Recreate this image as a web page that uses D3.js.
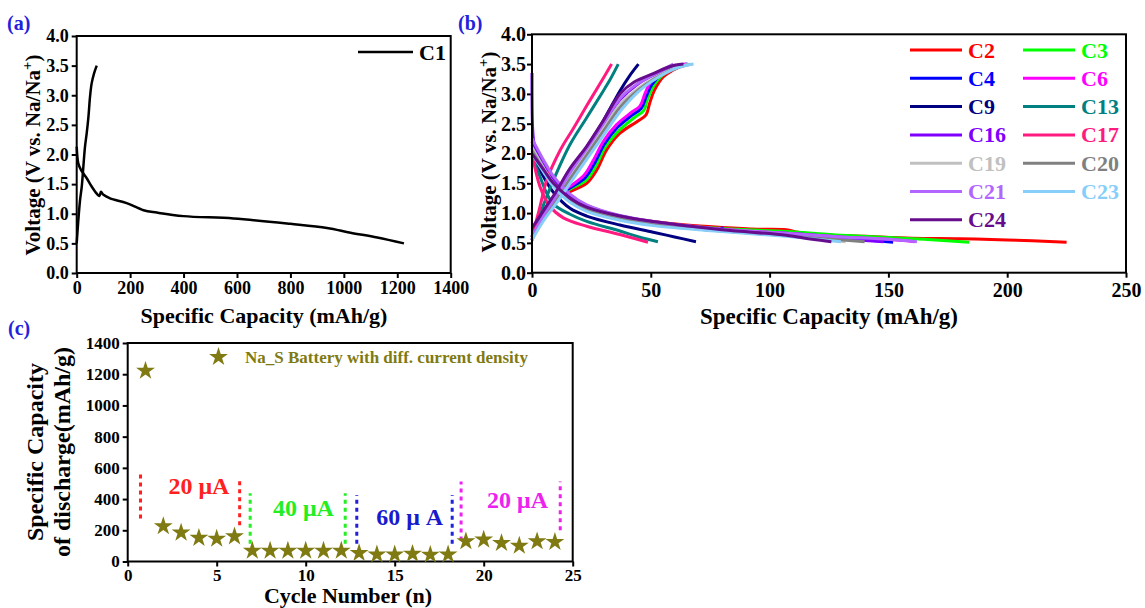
<!DOCTYPE html>
<html>
<head>
<meta charset="utf-8">
<script src="https://cdn.jsdelivr.net/npm/d3@7"></script>
<style>
  body { margin: 0; background: #fff; }
  svg text { font-family: "Liberation Serif", "DejaVu Serif", "Times New Roman", serif !important; font-weight: bold; }
  .tick line { stroke: #000; stroke-width: 2; }
  .domain { display: none; }
</style>
</head>
<body>
<svg width="1145" height="608"></svg>
<script>
// ---- panel (a): first cycle C1 ----
var c1Charge = [[0,0.5],[2.5,0.67],[8,1.0],[12.5,1.23],[19,1.46],[25,1.8],[31,2.13],[37.5,2.36],[44,2.64],[50,2.98],[56,3.2],[65,3.37],[75,3.5]];
var c1Discharge = [[0,2.13],[6,1.85],[15,1.75],[25,1.68],[37.5,1.6],[56,1.46],[75,1.34],[85,1.3],[91,1.37],[100,1.32],[125,1.26],[187,1.18],[250,1.06],[300,1.02],[400,0.96],[587,0.92],[800,0.83],[937,0.76],[1025,0.68],[1125,0.6],[1225,0.5]];
var ticksA_x = [0,200,400,600,800,1000,1200,1400];
var ticksV = [0,0.5,1,1.5,2,2.5,3,3.5,4];

// ---- panel (b): cycles C2..C24 ----
var cycleNames = ["C2","C3","C4","C6","C9","C13","C16","C17","C19","C20","C21","C23","C24"];
var cycleColors = ["#ff0000","#00ff00","#0000ff","#ff00ff","#000080","#008080","#8000ff","#ff1a80","#c0c0c0","#808080","#b266ff","#87cefa","#660c8c"];
var chargeB = {
  C2:  [[0,0.55],[3.4,0.88],[9,1.19],[16,1.36],[23,1.5],[27.2,1.72],[31.4,2.06],[37,2.34],[44,2.53],[48,2.65],[49.5,2.84],[51.5,3.06],[55.3,3.29],[59.5,3.4],[64.4,3.5]],
  C3:  [[0,0.55],[3.4,0.9],[9,1.22],[16,1.4],[23,1.56],[27,1.8],[31,2.12],[37,2.4],[43,2.6],[47,2.72],[48.5,2.9],[51,3.12],[55,3.32],[60,3.43],[65,3.5]],
  C4:  [[0,0.55],[3.4,0.92],[9,1.24],[16,1.42],[22.5,1.6],[26.5,1.85],[30.5,2.16],[36,2.44],[42,2.64],[46,2.76],[48,2.95],[50.5,3.16],[55,3.35],[60,3.45],[65.5,3.5]],
  C6:  [[0,0.55],[3.4,0.93],[9,1.26],[16,1.45],[22,1.64],[26,1.9],[30,2.2],[35.5,2.48],[41.5,2.68],[45.5,2.8],[47.5,3.0],[50,3.2],[54.5,3.37],[60,3.46],[65,3.5]],
  C9:  [[0,0.6],[5,1.0],[10,1.3],[16,1.65],[23,2.1],[30,2.55],[37,3.05],[41,3.3],[44.8,3.5]],
  C13: [[0,0.6],[4,1.05],[9,1.55],[16,2.15],[23,2.6],[30,3.05],[33,3.25],[36.3,3.5]],
  C16: [[0,0.6],[5,0.95],[10,1.3],[16,1.7],[23,2.1],[30,2.5],[37,2.9],[44,3.15],[52,3.33],[60,3.45],[64,3.5]],
  C17: [[0,0.6],[3,1.05],[6.2,1.55],[11.8,2.05],[17.4,2.42],[23,2.8],[28.6,3.17],[33.5,3.5]],
  C19: [[0,0.6],[5,0.95],[10,1.25],[16,1.62],[23,2.02],[30,2.42],[37,2.82],[45,3.1],[52,3.28],[60,3.43],[66,3.5]],
  C20: [[0,0.6],[5,0.92],[10,1.2],[16,1.57],[23,1.97],[30,2.37],[37,2.77],[45,3.07],[52,3.26],[60,3.42],[67,3.5]],
  C21: [[0,0.6],[5,0.97],[10,1.28],[16,1.68],[23,2.08],[30,2.5],[37,2.92],[44,3.16],[52,3.34],[59.5,3.5]],
  C23: [[0,0.55],[5,0.88],[10,1.15],[16,1.5],[23,1.9],[30,2.3],[38,2.75],[46,3.08],[54,3.3],[62,3.45],[68,3.5]],
  C24: [[0,0.75],[5,1.05],[10,1.35],[16,1.75],[23,2.12],[30,2.55],[37,3.0],[43,3.2],[51,3.34],[58,3.46],[63.7,3.5]]
};
var dischargeB = {
  C2:  [[0,2.2],[5,1.8],[9,1.55],[16,1.25],[23,1.08],[30,1.0],[37,0.94],[51,0.86],[65,0.8],[80,0.76],[95,0.73],[107,0.72],[112,0.68],[120,0.64],[140,0.61],[160,0.58],[180,0.57],[200,0.55],[225,0.51]],
  C3:  [[0,2.15],[5,1.75],[9,1.5],[16,1.22],[23,1.06],[37,0.92],[51,0.84],[80,0.74],[107,0.69],[130,0.63],[150,0.59],[165,0.56],[184,0.51]],
  C4:  [[0,2.1],[5,1.72],[9,1.48],[16,1.2],[23,1.05],[37,0.91],[51,0.83],[79,0.72],[80,0.75],[81,0.72],[107,0.66],[130,0.59],[152,0.51]],
  C6:  [[0,2.2],[5,1.85],[9,1.6],[16,1.3],[23,1.12],[37,0.95],[51,0.85],[80,0.73],[107,0.66],[130,0.6],[150,0.56],[161,0.52]],
  C9:  [[0,2.0],[5,1.6],[9,1.35],[16,1.08],[23,0.95],[37,0.8],[51,0.68],[60,0.6],[69,0.52]],
  C13: [[0,1.95],[3,1.65],[6,1.35],[9,1.15],[16,0.98],[23,0.86],[37,0.7],[45,0.6],[53,0.52]],
  C16: [[0,3.35],[0.3,2.4],[1,2.15],[5,1.82],[9,1.58],[16,1.3],[23,1.13],[37,0.95],[51,0.85],[80,0.72],[107,0.64],[130,0.57],[148,0.52]],
  C17: [[0,2.0],[3.4,1.44],[7.6,1.11],[13.2,0.92],[23,0.78],[37,0.64],[48.8,0.51]],
  C19: [[0,2.1],[5,1.75],[9,1.5],[16,1.22],[23,1.06],[37,0.9],[51,0.81],[80,0.7],[107,0.62],[125,0.55],[132,0.52]],
  C20: [[0,2.05],[5,1.72],[9,1.48],[16,1.2],[23,1.05],[37,0.9],[51,0.81],[80,0.7],[107,0.63],[125,0.57],[140,0.52]],
  C21: [[0,2.25],[5,1.88],[9,1.62],[16,1.32],[23,1.14],[37,0.96],[51,0.86],[80,0.73],[107,0.66],[130,0.6],[150,0.56],[162,0.52]],
  C23: [[0,2.0],[5,1.68],[9,1.45],[16,1.18],[23,1.03],[37,0.88],[51,0.79],[80,0.69],[107,0.61],[120,0.56],[130,0.52]],
  C24: [[0,2.0],[5,1.72],[9,1.5],[16,1.25],[23,1.1],[37,0.95],[51,0.86],[80,0.72],[107,0.63],[118,0.56],[126,0.52]]
};
var ticksB_x = [0,50,100,150,200,250];

// ---- panel (c): discharge capacity vs cycle ----
var cycles = [1,2,3,4,5,6,7,8,9,10,11,12,13,14,15,16,17,18,19,20,21,22,23,24];
var capacity = [1222,226,185,151,146,161,69,69,69,69,69,69,54,45,45,49,43,45,129,140,118,101,129,125];
var ticksC_x = [0,5,10,15,20,25];
var ticksC_y = [0,200,400,600,800,1000,1200,1400];
var stepX = [0.72,6.29,6.88,12.22,12.87,18.23,18.73,24.3];
var stepTop = [576,533,437,437,426,426,512,512];
var stepBottom = [275,232,114,114,114,114,135,200];
var stepColor = ["#ff2020","#ff2020","#22ee22","#22ee22","#2020dd","#2020dd","#ee22ee","#ee22ee"];
var stepLabels = ["20 \u03bcA","40 \u03bcA","60 \u03bc A","20 \u03bcA"];
var stepLabelX = [4.0,9.87,15.84,21.9];
var stepLabelY = [432,290,237,344];
var stepLabelColor = ["#ff2020","#22ee22","#1a1acc","#ee22ee"];

var svg = d3.select("svg");
var blue = "#2222dd";
var serif = "'Liberation Serif', 'DejaVu Serif', serif";

function frame (x, y) {
    svg.append("rect")
        .attr("x", x.range()[0]).attr("y", y.range()[1])
        .attr("width", x.range()[1] - x.range()[0])
        .attr("height", y.range()[0] - y.range()[1])
        .attr("fill", "none").attr("stroke", "#000").attr("stroke-width", 2);
}

function axes (x, y, xt, yt, fs, xpad, ypad, xfmt, yfmt) {
    svg.append("g")
        .attr("transform", `translate(0,${y.range()[0]})`)
        .call(d3.axisBottom(x).tickValues(xt).tickSize(5).tickPadding(xpad).tickSizeOuter(0).tickFormat(xfmt))
        .attr("font-family", serif)
        .selectAll("text").style("font-size", fs + "px").attr("fill", "#000");
    svg.append("g")
        .attr("transform", `translate(${x.range()[0]},0)`)
        .call(d3.axisLeft(y).tickValues(yt).tickSize(5).tickPadding(ypad).tickSizeOuter(0).tickFormat(yfmt))
        .attr("font-family", serif)
        .selectAll("text").style("font-size", fs + "px").attr("fill", "#000");
}

function vTitle (x, cy, fs) {
    let t = svg.append("text")
        .attr("transform", `translate(${x},${cy}) rotate(-90)`)
        .attr("text-anchor", "middle")
        .style("font-size", fs + "px");
    t.append("tspan").text("Voltage (V vs. Na/Na");
    t.append("tspan").attr("dy", -8).style("font-size", (fs * 0.7) + "px").text("+");
    t.append("tspan").attr("dy", 8).text(")");
}

// ================= (a) =================
var xA = d3.scaleLinear().domain([0, 1400]).range([76.7, 450.7]);
var yA = d3.scaleLinear().domain([0, 4]).range([273, 36]);
axes(xA, yA, ticksA_x, ticksV, 18, 3, 3, d3.format("d"), d3.format(".1f"));
frame(xA, yA);

var lineA = d3.line().x(d => xA(d[0])).y(d => yA(d[1])).curve(d3.curveCatmullRom.alpha(0.5));
[c1Charge, c1Discharge].forEach(function (s) {
    svg.append("path").attr("d", lineA(s))
        .attr("fill", "none").attr("stroke", "#000").attr("stroke-width", 2.5);
});
svg.append("line").attr("x1", 358).attr("x2", 413).attr("y1", 52).attr("y2", 52)
    .attr("stroke", "#000").attr("stroke-width", 2.5);
svg.append("text").attr("x", 419).attr("y", 60).style("font-size", "22px").text("C1");

vTitle(40, 155, 21);
svg.append("text").attr("x", 264).attr("y", 323).attr("text-anchor", "middle")
    .style("font-size", "22px").text("Specific Capacity (mAh/g)");
svg.append("text").attr("x", 7).attr("y", 30).attr("fill", blue).style("font-size", "20px").text("(a)");

// ================= (b) =================
var xB = d3.scaleLinear().domain([0, 250]).range([532, 1126]);
var yB = d3.scaleLinear().domain([0, 4]).range([272.7, 34.3]);
axes(xB, yB, ticksB_x, ticksV, 20, 5, 1, d3.format("d"), d3.format(".1f"));

var lineB = d3.line().x(d => xB(d[0])).y(d => yB(d[1])).curve(d3.curveCatmullRom.alpha(0.5));
cycleNames.forEach(function (n, i) {
    [chargeB[n], dischargeB[n]].forEach(function (s) {
        svg.append("path").attr("d", lineB(s))
            .attr("fill", "none").attr("stroke", cycleColors[i])
            .attr("stroke-width", 3).attr("stroke-linejoin", "round");
    });
});
frame(xB, yB);

// legend, two columns
cycleNames.forEach(function (n, i) {
    let col = i % 2, row = Math.floor(i / 2);
    let lx = 910 + col * 113, ly = 50 + row * 28.3;
    svg.append("line").attr("x1", lx).attr("x2", lx + 52).attr("y1", ly).attr("y2", ly)
        .attr("stroke", cycleColors[i]).attr("stroke-width", 3);
    svg.append("text").attr("x", lx + 58).attr("y", ly + 7.5)
        .attr("fill", cycleColors[i]).style("font-size", "22px").text(n);
});

vTitle(496, 152, 21);
svg.append("text").attr("x", 829).attr("y", 324).attr("text-anchor", "middle")
    .style("font-size", "23px").text("Specific Capacity (mAh/g)");
svg.append("text").attr("x", 458).attr("y", 30).attr("fill", blue).style("font-size", "20px").text("(b)");

// ================= (c) =================
var xC = d3.scaleLinear().domain([0, 25]).range([127.7, 572.7]);
var yC = d3.scaleLinear().domain([0, 1400]).range([561.5, 343]);
axes(xC, yC, ticksC_x, ticksC_y, 17, 2, 3, d3.format("d"), d3.format("d"));
frame(xC, yC);

stepX.forEach(function (sx, i) {
    svg.append("line")
        .attr("x1", xC(sx)).attr("x2", xC(sx))
        .attr("y1", yC(stepBottom[i])).attr("y2", yC(stepTop[i]))
        .attr("stroke", stepColor[i]).attr("stroke-width", 3)
        .attr("stroke-dasharray", "4,4");
});
stepLabels.forEach(function (s, i) {
    svg.append("text").attr("x", xC(stepLabelX[i])).attr("y", yC(stepLabelY[i]))
        .attr("text-anchor", "middle").attr("fill", stepLabelColor[i])
        .style("font-size", "24px").text(s);
});

var olive = "#7f7a12";
var star = d3.symbol(d3.symbolStar).size(110);
svg.selectAll(".star").data(cycles).enter().append("path")
    .attr("class", "star")
    .attr("d", star)
    .attr("transform", (d, i) => `translate(${xC(d)},${yC(capacity[i])})`)
    .attr("fill", olive);

svg.append("path").attr("d", star).attr("transform", "translate(218.5,357)").attr("fill", olive);
svg.append("text").attr("x", 245).attr("y", 363).attr("fill", olive)
    .style("font-size", "17px").text("Na_S Battery with diff. current density");

svg.append("text").attr("transform", "translate(43,452) rotate(-90)").attr("text-anchor", "middle")
    .style("font-size", "24px").text("Specific Capacity");
svg.append("text").attr("transform", "translate(70,452) rotate(-90)").attr("text-anchor", "middle")
    .style("font-size", "24px").text("of discharge(mAh/g)");
svg.append("text").attr("x", 348).attr("y", 603).attr("text-anchor", "middle")
    .style("font-size", "22px").text("Cycle Number (n)");
svg.append("text").attr("x", 8).attr("y", 335).attr("fill", blue).style("font-size", "20px").text("(c)");
</script>
</body>
</html>
